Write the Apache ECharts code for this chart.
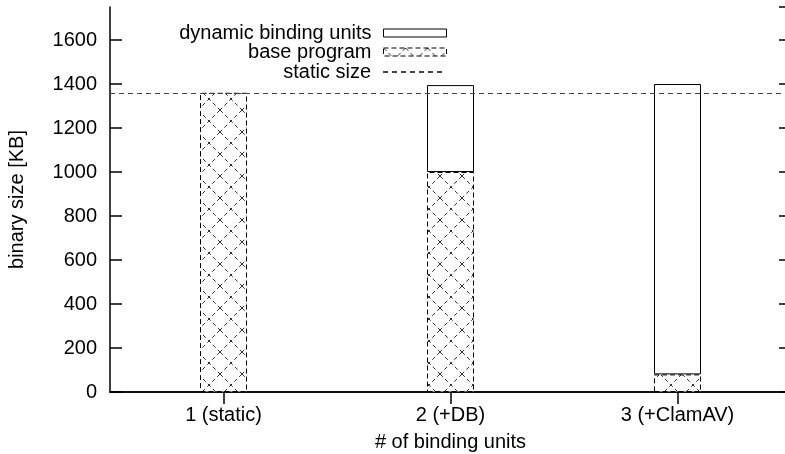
<!DOCTYPE html>
<html><head><meta charset="utf-8">
<script src="https://cdn.jsdelivr.net/npm/echarts@6/dist/echarts.min.js"></script>
<style>html,body{margin:0;padding:0;background:#fff}#c{width:785px;height:454px}</style>
</head><body><div id="c"></div>
<script>
const categories = ['1 (static)', '2 (+DB)', '3 (+ClamAV)'];
const baseProgram = [1360, 1000, 80];
const dynamicUnits = ['-', 395, 1320];
const staticSize = 1360;
const yMin = 0, yMax = 1750, yInterval = 200;
const seriesNames = ['dynamic binding units', 'base program', 'static size'];
const xName = '# of binding units';
const yName = 'binary size [KB]';

const FONT = 'Liberation Sans';
const FS = 20;

function hatch() {
  const s = 22;
  const c = document.createElement('canvas'); c.width = s; c.height = s;
  const g = c.getContext('2d');
  g.fillStyle = '#fff'; g.fillRect(0, 0, s, s);
  g.strokeStyle = '#333'; g.lineWidth = 1; g.setLineDash([4, 3]);
  g.beginPath(); g.moveTo(0, 0); g.lineTo(s, s); g.stroke();
  g.beginPath(); g.moveTo(s, 0); g.lineTo(0, s); g.stroke();
  return c;
}
const pattern = { image: hatch(), repeat: 'repeat' };

const axisLine = { show: true, lineStyle: { color: '#000', width: 1.5 } };
const tick = { show: true, inside: true, length: 12, lineStyle: { color: '#000', width: 1.5 } };
const txt = { fontFamily: FONT, fontSize: FS, color: '#000' };

function legendFor(item, top, icon) {
  const l = {
    data: [item], right: 338, top: top, align: 'right', orient: 'vertical',
    padding: 0, itemWidth: 63, itemHeight: 8, selectedMode: false,
    textStyle: Object.assign({ padding: [0, 7, 0, 0] }, txt)
  };
  if (icon) l.icon = icon;
  return l;
}

const chart = echarts.init(document.getElementById('c'), null, { renderer: 'canvas' });
chart.setOption({
  animation: false,
  backgroundColor: '#fff',
  textStyle: { fontFamily: FONT },
  grid: { left: 110, top: 7, width: 681, bottom: 62, containLabel: false, outerBoundsMode: 'none' },
  legend: [
    legendFor({ name: seriesNames[0], itemStyle: { borderWidth: 1, borderColor: '#000', color: '#fff' } }, 23, 'rect'),
    legendFor({ name: seriesNames[1], itemStyle: { borderWidth: 1, borderColor: '#000', borderType: [5, 3] } }, 42, 'rect'),
    legendFor({ name: seriesNames[2], itemStyle: { opacity: 0 } }, 62)
  ],
  xAxis: [
    { type: 'category', data: categories, position: 'bottom', axisLine: axisLine,
      axisTick: Object.assign({ alignWithLabel: true }, tick),
      axisLabel: Object.assign({ margin: 13 }, txt),
      name: xName, nameLocation: 'middle', nameGap: 40, nameTextStyle: txt },
    { type: 'category', data: categories, position: 'top', axisLine: axisLine,
      axisTick: Object.assign({ alignWithLabel: true }, tick), axisLabel: { show: false } }
  ],
  yAxis: [
    { type: 'value', min: yMin, max: yMax, interval: yInterval, position: 'left',
      axisLine: axisLine, axisTick: tick, splitLine: { show: false },
      axisLabel: Object.assign({ margin: 13, showMaxLabel: false, formatter: v => String(v) }, txt),
      name: yName, nameLocation: 'middle', nameGap: 83, nameTextStyle: txt },
    { type: 'value', min: yMin, max: yMax, interval: yInterval, position: 'right',
      axisLine: axisLine, axisTick: tick, splitLine: { show: false }, axisLabel: { show: false } }
  ],
  series: [
    { name: seriesNames[1], type: 'bar', stack: 'a', data: baseProgram, barWidth: 47,
      itemStyle: { color: pattern, borderColor: '#000', borderWidth: 1, borderType: [5, 3] } },
    { name: seriesNames[0], type: 'bar', stack: 'a', data: dynamicUnits, barWidth: 47,
      itemStyle: { color: '#fff', borderColor: '#000', borderWidth: 1 } },
    { name: seriesNames[2], type: 'line', data: [], symbol: 'none', showSymbol: false,
      lineStyle: { color: '#444', width: 1, type: [5, 4] },
      markLine: { silent: true, symbol: ['none', 'none'], label: { show: false },
        lineStyle: { color: '#444', width: 1, type: [5, 4] },
        data: [{ yAxis: staticSize }] } }
  ]
});
</script>
</body></html>
